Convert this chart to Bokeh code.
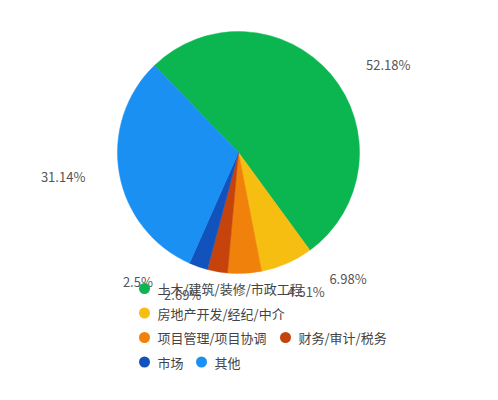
import math
from bokeh.plotting import figure
from bokeh.models import ColumnDataSource, Range1d
from bokeh.core.properties import value
from bokeh.embed import file_html
from bokeh.resources import INLINE

# ---- data ----
categories = ["土木/建筑/装修/市政工程", "房地产开发/经纪/中介", "项目管理/项目协调",
              "财务/审计/税务", "市场", "其他"]
percents = [52.18, 6.98, 4.51, 2.69, 2.5, 31.14]
labels = ["52.18%", "6.98%", "4.51%", "2.69%", "2.5%", "31.14%"]
colors = ["#0bb650", "#f6be10", "#f0820c", "#c6440c", "#1152bd", "#1990f2"]

W, H = 482, 384
FONT = "Noto Sans CJK SC"

p = figure(width=W, height=H, output_backend="svg", toolbar_location=None,
           x_range=Range1d(0, W), y_range=Range1d(400 - H, 400),
           min_border=0, outline_line_color=None)
p.axis.visible = False
p.grid.visible = False
p.background_fill_color = "white"
p.border_fill_color = "white"

# pie geometry (data coords = page pixels, y up)
cx, cy, r = 238, 248, 121
start_deg = 134.0
total = sum(percents)
starts, ends, mids = [], [], []
a = start_deg
for v in percents:
    span = v / total * 360.0
    starts.append(math.radians(a))
    ends.append(math.radians(a - span))
    mids.append(math.radians(a - span / 2))
    a -= span

src = ColumnDataSource(dict(start=starts, end=ends, color=colors))
p.wedge(x=cx, y=cy, radius=r, start_angle="start", end_angle="end",
        direction="clock", fill_color="color", line_color="color", line_width=0.5,
        source=src)

# outer labels: ECharts-like placement with overlap resolution
R1, R2, R2s, gap = r + 16, 155, 147, 13
lab = []
for i, m in enumerate(mids):
    side = 1 if math.cos(m) >= 0 else -1
    lab.append([i, side, cy + R1 * math.sin(m), False])
for side in (1, -1):
    items = sorted([l for l in lab if l[1] == side], key=lambda t: -t[2])
    for k in range(1, len(items)):
        if items[k - 1][2] - items[k][2] < gap:
            items[k][2] = items[k - 1][2] - gap
            items[k][3] = True
lx, ly, lt, la = [], [], [], []
for i, side, y, moved in lab:
    rr = R2s if moved else R2
    dy = min(abs(y - cy), rr - 1)
    x = cx + side * math.sqrt(rr ** 2 - dy ** 2)
    lx.append(x); ly.append(y); lt.append(labels[i])
    la.append("left" if side > 0 else "right")
p.text(x=lx, y=ly, text=lt, text_align=la, text_baseline="middle",
       text_font=value(FONT), text_font_size="13px", text_color="#555555")

# legend (flowing rows)
def tw(s, fs=13):
    w = 0
    for ch in s:
        if ord(ch) > 0x2e80:
            w += fs
        elif ch == "/":
            w += 6
        else:
            w += 7
    return w

mx, my = [], []
tx, ty = [], []
x0, y_row, row_h, max_right = 144, 400 - 288, 24.5, 400
x = x0
for c in categories:
    w = 13 + tw(c)
    if x != x0 and x + w > max_right:
        x = x0
        y_row -= row_h
    mx.append(x); my.append(y_row)
    tx.append(x + 13); ty.append(y_row)
    x = x + w + 18

p.scatter(x=mx, y=my, size=11, marker="circle", fill_color=colors, line_color=None)
p.text(x=tx, y=ty, text=categories, text_align="left", text_baseline="middle",
       text_font=value(FONT), text_font_size="13px", text_color="#444444")

open("out.html", "w").write(file_html(p, INLINE))
